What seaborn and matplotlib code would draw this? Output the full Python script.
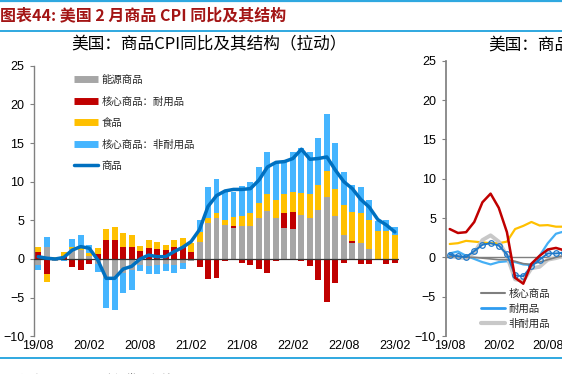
import numpy as np
import pandas as pd
import matplotlib
matplotlib.use("Agg")
import matplotlib.pyplot as plt
import seaborn as sns
from matplotlib.lines import Line2D

# ---------------- data (left panel: contributions, pct pts) ----------------
months = [f"{(y % 100):02d}/{m:02d}" for y in range(2019, 2024) for m in range(1, 13)
          if (y, m) >= (2019, 8) and (y, m) <= (2023, 2)]
tick_labels = ["19/08", "20/02", "20/08", "21/02", "21/08", "22/02", "22/08", "23/02"]

energy = [-0.8, 1.5, -0.2, 0.0, 1.3, 1.2, 0.4, -0.6, -2.5, -2.5, -1.85, -1.4, -0.8, -0.85,
          -0.8, -0.7, -0.8, -0.5, -0.2, 2.25, 4.6, 5.3, 4.4, 4.05, 4.25, 4.25, 5.25, 6.2,
          5.25, 3.97, 3.84, 5.7, 5.25, 6.3, 8.06, 5.56, 3.1, 2.1, 2.1, 1.3, -0.1, -0.1, -0.1]
durable = [0.95, -1.9, 0.1, 0.3, -1.0, -1.4, -0.65, 0.7, 2.4, 2.5, 1.6, 1.6, 1.0, 1.4,
           1.3, 1.1, 1.5, 1.6, 0.95, -1.1, -2.6, -2.4, -0.2, 0.2, -0.55, -0.8, -1.35, -1.85,
           -0.2, 2.0, 2.2, -0.25, -0.85, -2.75, -5.5, -3.06, -0.56, 0.2, -0.65, -0.65, 0.0, -0.6, -0.47]
food = [0.65, -1.1, 0.1, 0.6, 0.2, 0.5, 0.4, 0.7, 1.5, 1.6, 1.8, 1.5, 0.7, 1.1,
        0.85, 0.7, 1.0, 1.15, 1.1, 1.25, 0.75, 0.7, 0.7, 1.15, 1.35, 1.65, 1.95, 2.2,
        2.35, 2.4, 2.6, 2.9, 3.15, 3.3, 3.35, 3.55, 3.9, 3.8, 3.9, 3.7, 3.6, 3.6, 3.1]
nondurable = [-0.6, 1.4, 0.0, -0.3, 1.1, 1.4, 1.0, -1.1, -3.9, -4.1, -2.6, -2.6, -0.8, -1.15,
              -1.1, -0.8, -1.0, -0.75, 0.0, 1.6, 3.95, 4.4, 3.7, 3.3, 3.8, 4.0, 4.7, 5.4,
              4.85, 4.2, 5.2, 5.8, 5.4, 6.1, 7.4, 5.9, 4.2, 3.5, 3.3, 2.6, 1.36, 1.44, 1.0]
goods_total = [0.3, 0.1, 0.0, 0.2, 1.15, 1.6, 1.4, -0.1, -2.5, -2.5, -1.3, -0.95, 0.0, 0.5,
               0.3, 0.3, 0.95, 1.5, 2.25, 3.8, 6.8, 8.2, 8.8, 9.0, 9.0, 9.1, 10.2, 11.9,
               12.5, 12.6, 13.0, 14.2, 12.9, 13.0, 13.2, 11.5, 10.0, 9.1, 7.7, 6.7, 5.1, 4.4, 3.5]

# ---------------- data (right panel, only visible part) ----------------
r_red = [3.6, 3.1, 3.2, 4.5, 7.0, 8.1, 6.3, 3.2, -2.6, -3.35, -0.8, 0.2, 1.0, 1.2, 0.9]
r_yellow = [1.7, 1.8, 2.1, 2.0, 1.9, 1.8, 1.8, 2.0, 3.6, 4.0, 4.5, 4.05, 4.1, 3.9, 3.9]
r_core = [0.1, 0.1, 0.0, 0.0, -0.1, -0.2, -0.3, -0.3, -0.5, -0.8, -0.9, -0.6, -0.3, 0.0, 0.2]
r_durable = [0.5, 0.75, 0.2, -0.2, -0.6, -0.9, -0.6, -0.5, -0.6, -0.9, -1.0, 0.2, 1.8, 3.0, 3.3]
r_nondurable = [0.2, 0.0, -0.1, 0.6, 2.2, 2.8, 2.0, 0.2, -2.8, -3.0, -1.4, -1.2, -0.3, -0.1, 0.2]
r_blue = [0.35, 0.15, 0.05, 0.8, 1.6, 1.8, 1.5, 0.4, -2.3, -2.4, -1.1, -0.3, 0.5, 0.5, 0.6]

# ---------------- style ----------------
sns.set_theme(style="white")
plt.rcParams['font.family'] = ['Liberation Sans', 'Noto Sans CJK SC', 'DejaVu Sans']
CJK = ['Noto Sans CJK SC', 'Liberation Sans', 'DejaVu Sans']

C_GREY, C_RED, C_YEL, C_LBLUE, C_LINE = '#A6A6A6', '#C00000', '#FFC000', '#45B5FF', '#0070C0'
C_FRAME = '#2FA8E0'

fig = plt.figure(figsize=(5.62, 3.74), dpi=100)

# decorative frame lines and header
for yy, lw in [(0.996, 1.6), (0.918, 1.4), (0.043, 1.4)]:
    fig.add_artist(Line2D([0, 1], [yy, yy], transform=fig.transFigure, color=C_FRAME, lw=lw))
fig.text(0.0, 0.958, "图表44: 美国 2 月商品 CPI 同比及其结构", family=CJK, fontsize=11.5,
         fontweight='bold', color='#A31515', va='center', ha='left')
fig.text(0.005, 0.0, "资料来源：CEIC，国金证券研究所", family=CJK, fontsize=8,
         color='#404040', va='top', ha='left')

# ---------------- left panel ----------------
ax = fig.add_axes([0.0605, 0.1008, 0.6495, 0.7235])
n = len(months)
x = np.arange(n)
layers = [(energy, C_GREY, '能源商品'), (durable, C_RED, '核心商品：耐用品'),
          (food, C_YEL, '食品'), (nondurable, C_LBLUE, '核心商品：非耐用品')]
pos_base = np.zeros(n)
neg_base = np.zeros(n)
for vals, color, label in layers:
    v = np.asarray(vals, dtype=float)
    bottom = np.where(v >= 0, pos_base, neg_base)
    ax.bar(x, v, width=0.7, bottom=bottom, color=color, linewidth=0, zorder=2)
    pos_base += np.clip(v, 0, None)
    neg_base += np.clip(v, None, 0)

ax.axhline(0, color='#333333', lw=0.9, zorder=3)
sns.lineplot(x=x, y=goods_total, ax=ax, color=C_LINE, lw=2.5, zorder=4)

ax.set_xlim(-0.5, n - 0.5)
ax.set_ylim(-10, 25)
ax.set_yticks(range(-10, 26, 5))
ax.set_xticks([months.index(t) for t in tick_labels])
ax.set_xticklabels(tick_labels)
ax.tick_params(axis='x', length=0, pad=3, labelsize=9, colors='#000000')
ax.tick_params(axis='y', length=3, width=0.8, pad=4, labelsize=9, colors='#000000',
               left=True, color='#808080')
for s in ['top', 'right', 'bottom']:
    ax.spines[s].set_visible(False)
ax.spines['left'].set_color('#808080')
ax.spines['left'].set_linewidth(1.0)
ax.set_xlabel('')
ax.set_ylabel('')
ax.grid(False)
ax.set_facecolor('none')

handles = [Line2D([], [], color=c, lw=5, solid_capstyle='butt') for _, c, _ in layers]
handles.append(Line2D([], [], color=C_LINE, lw=2.5))
labels = [l for _, _, l in layers] + ['商品']
ax.legend(handles, labels, loc='upper left', bbox_to_anchor=(0.131, 0.800),
          bbox_transform=fig.transFigure, frameon=False, prop={'family': CJK, 'size': 7.5},
          handlelength=2.3, handletextpad=0.35, labelspacing=1.1, borderpad=0, borderaxespad=0)

fig.text(0.372, 0.880, "美国：商品CPI同比及其结构（拉动）", family=CJK, fontsize=12,
         ha='center', va='center', color='#000000')

# ---------------- right panel (cut off by the image edge) ----------------
ax2 = fig.add_axes([0.793, 0.1016, 0.625, 0.736])
xr = np.arange(len(r_red))
sns.lineplot(x=xr, y=r_yellow, ax=ax2, color=C_YEL, lw=1.6, zorder=2)
sns.lineplot(x=xr, y=r_durable, ax=ax2, color='#45AFF5', lw=1.6, zorder=2)
sns.lineplot(x=xr, y=r_nondurable, ax=ax2, color='#C8C8C8', lw=2.8, zorder=2)
sns.lineplot(x=xr, y=r_core, ax=ax2, color='#7F7F7F', lw=1.2, zorder=2)
sns.lineplot(x=xr, y=r_blue, ax=ax2, color='#1F78C8', lw=1.4, marker='o', markersize=4,
             markerfacecolor='none', markeredgecolor='#1F78C8', markeredgewidth=0.9, zorder=3)
sns.lineplot(x=xr, y=r_red, ax=ax2, color=C_RED, lw=1.8, zorder=4)
ax2.axhline(0, color='#7F7F7F', lw=1.0, zorder=1)
ax2.set_xlim(-0.5, n - 0.5)
ax2.set_ylim(-10, 25)
ax2.set_yticks(range(-10, 26, 5))
ax2.set_xticks([months.index(t) for t in tick_labels])
ax2.set_xticklabels(tick_labels)
ax2.tick_params(axis='x', length=0, pad=3, labelsize=9, colors='#000000')
ax2.tick_params(axis='y', length=3, width=0.8, pad=4, labelsize=9, colors='#000000',
                left=True, color='#808080')
for s in ['top', 'right', 'bottom']:
    ax2.spines[s].set_visible(False)
ax2.spines['left'].set_color('#808080')
ax2.set_xlabel('')
ax2.set_ylabel('')
ax2.grid(False)
ax2.set_facecolor('none')

r_handles = [Line2D([], [], color='#7F7F7F', lw=1.5),
             Line2D([], [], color='#2E9CF0', lw=2.0),
             Line2D([], [], color='#C8C8C8', lw=3.0),
             Line2D([], [], color=C_RED, lw=2.0),
             Line2D([], [], color=C_YEL, lw=2.0),
             Line2D([], [], color='#1F78C8', lw=1.4, marker='o', markerfacecolor='none')]
r_labels = ['核心商品', '耐用品', '非耐用品', '二手车', '新车', '服装']
ax2.legend(r_handles, r_labels, loc='upper left', bbox_to_anchor=(0.856, 0.228),
           bbox_transform=fig.transFigure, frameon=False, prop={'family': CJK, 'size': 7.5},
           ncol=2, handlelength=2.3, handletextpad=0.3, labelspacing=0.45, borderpad=0,
           borderaxespad=0, columnspacing=1.5)

fig.text(0.868, 0.880, "美国：商品CPI分项同比", family=CJK, fontsize=12,
         ha='left', va='center', color='#000000')

fig.savefig("out.png", dpi=100)
